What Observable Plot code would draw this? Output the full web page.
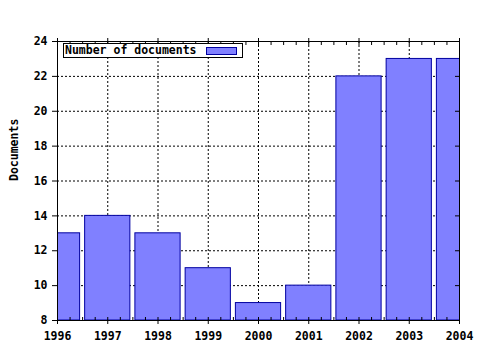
<!DOCTYPE html>
<html>
<head>
<meta charset="utf-8">
<script src="https://cdn.jsdelivr.net/npm/d3@7"></script>
<script src="https://cdn.jsdelivr.net/npm/@observablehq/plot@0.6"></script>
<style>
  html, body { margin: 0; padding: 0; background: #fff; }
  #wrap { position: relative; width: 480px; height: 350px; }
  #legend {
    position: absolute; left: 63px; top: 43px;
    border: 1px solid #000; background: #fff;
    font: bold 11.5px "DejaVu Sans Mono", monospace;
    padding: 0 5px 0 1px; height: 13px; line-height: 13px;
    display: flex; align-items: center; white-space: nowrap;
  }
  #legend .sw {
    display: inline-block; width: 29px; height: 6px; margin-left: 9px;
    background: #8080ff; border: 1px solid #0000a0;
  }
</style>
</head>
<body>
<div id="wrap"></div>
<script>
const years = [1996, 1997, 1998, 1999, 2000, 2001, 2002, 2003, 2004];
const documents = [13, 14, 13, 11, 9, 10, 22, 23, 23];
const yTicks = [8, 10, 12, 14, 16, 18, 20, 22, 24];
const seriesName = "Number of documents";
const yLabel = "Documents";

const data = years.map((y, i) => ({year: y, value: documents[i]}));
const minor = d3.range(1996, 2004.001, 0.25);
const font = '"DejaVu Sans Mono", monospace';

const chart = Plot.plot({
  width: 480, height: 350,
  marginLeft: 57, marginRight: 21, marginTop: 41, marginBottom: 30,
  style: {fontFamily: font, fontSize: "11.5px", fontWeight: "bold", color: "#000", background: "#fff"},
  x: {type: "linear", domain: [1996, 2004]},
  y: {domain: [8, 24]},
  marks: [
    Plot.gridY(yTicks, {stroke: "#000", strokeOpacity: 1, strokeDasharray: "2,2"}),
    Plot.gridX(years, {stroke: "#000", strokeOpacity: 1, strokeDasharray: "2,2"}),
    Plot.rectY(data, {
      x1: d => d.year - 0.45, x2: d => d.year + 0.45, y1: 8, y2: "value",
      fill: "#8080ff", stroke: "#0000a0", strokeWidth: 1, clip: true
    }),
    Plot.frame({stroke: "#000"}),
    Plot.axisY(yTicks, {anchor: "left", tickSize: 5, tickPadding: 5, label: null, fontWeight: "bold"}),
    Plot.axisY(yTicks, {anchor: "right", tickSize: -5, text: null, label: null}),
    Plot.axisX(years, {anchor: "bottom", tickSize: 4, tickPadding: 7, tickFormat: d => String(d), label: null, fontWeight: "bold"}),
    Plot.axisX(minor, {anchor: "bottom", tickSize: -3, text: null, label: null}),
    Plot.axisX(minor, {anchor: "top", tickSize: -3, text: null, label: null}),
    Plot.axisX(years, {anchor: "top", tickSize: 4, text: null, label: null}),
    Plot.text([yLabel], {frameAnchor: "left", dx: -43, rotate: -90, fontWeight: "bold", fontSize: 11.5})
  ]
});

const wrap = document.getElementById("wrap");
wrap.appendChild(chart);
const lg = document.createElement("div");
lg.id = "legend";
lg.innerHTML = `<span>${seriesName}</span><span class="sw"></span>`;
wrap.appendChild(lg);
</script>
</body>
</html>
